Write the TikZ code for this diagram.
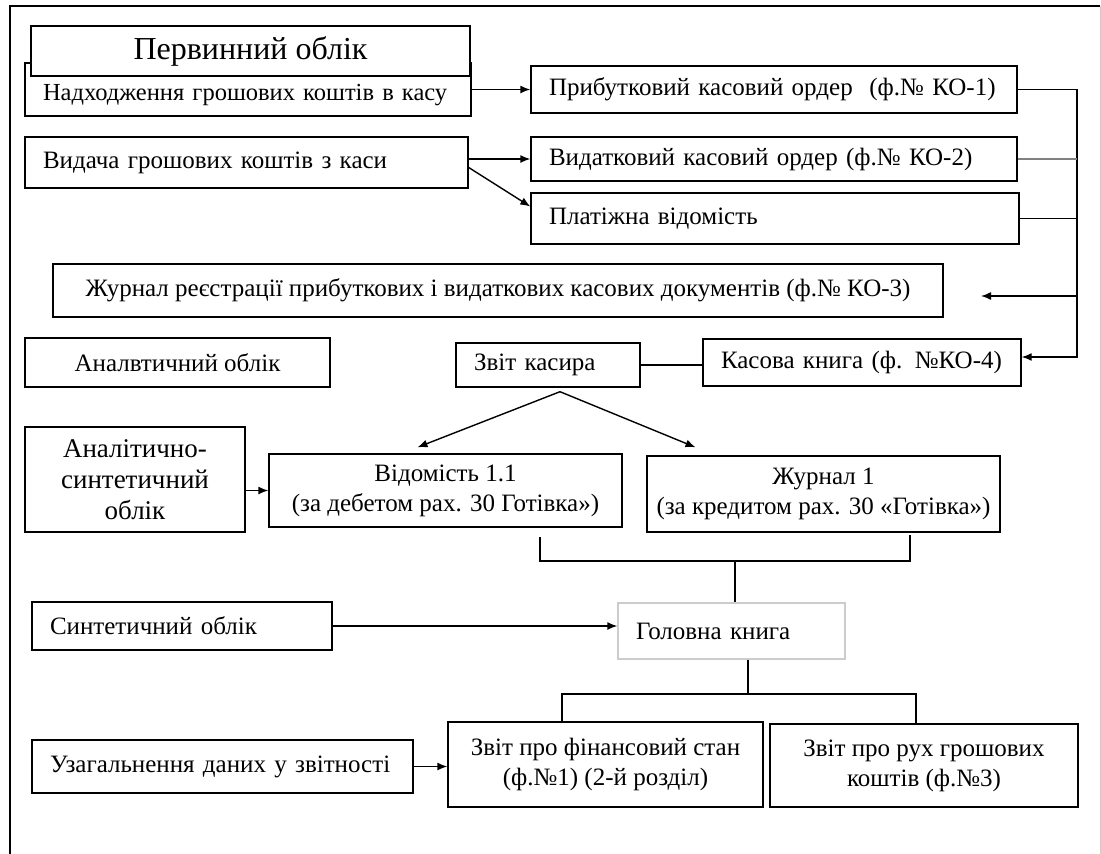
\documentclass[tikz,border=0pt]{standalone}
\usepackage{fontspec}
\setmainfont{Liberation Serif}
\usetikzlibrary{arrows.meta}

\begin{document}
\begin{tikzpicture}
	 [x=1pt,y=-1pt,line width=1.4pt,>={Latex[length=10pt,width=8pt]},
	  every node/.style={draw,rectangle,fill=white,inner sep=0pt,align=center,font=\fontsize{25}{30}\selectfont},
	  lbox/.style={inner xsep=18pt,text width=#1pt-36pt,align=left}]
	\useasboundingbox (0,0) rectangle (1101,854);
	\draw (10,854) -- (10,6) -- (1100,6);
	\draw[gray!40,line width=1pt] (1100,6) -- (1100,854);

	  \node (nadh)[lbox=446,minimum height=53,text height=27pt,text depth=6pt,font=\fontsize{24.5}{30}\selectfont] at (248,89.5) {Надходження грошових коштів в касу};
	  \node (perv)[minimum width=439,minimum height=50,font=\fontsize{32}{36}\selectfont] at (250.5,51) {Первинний облік};
	  \node (vyd)[lbox=443,minimum height=51] at (246.5,162.5) {Видача грошових коштів з каси};
	  \node (prib)[lbox=486,minimum height=47] at (774,89.5) {Прибутковий касовий ордер\ \ (ф.№ КО-1)};
	  \node (vydat)[lbox=486,minimum height=44] at (774,159) {Видатковий касовий ордер (ф.№ КО-2)};
	  \node (plat)[lbox=488,minimum height=51] at (775,218.5) {Платіжна відомість};
	  \node (zhurn)[minimum width=890,minimum height=53] at (498,290.5) {Журнал реєстрації прибуткових і видаткових касових документів (ф.№ КО-3)};
	  \node (analv)[minimum width=305,minimum height=49] at (177.5,362.5) {Аналвтичний облік};
	  \node (zvit)[lbox=184,minimum height=44] at (548,365) {Звіт касира};
	  \node (kasova)[lbox=318,minimum height=47] at (862,362.5) {Касова книга (ф. №КО-4)};
	  \node (ansyn)[minimum width=220,minimum height=105,font=\fontsize{27}{31}\selectfont] at (135,479.5) {Аналітично-\\синтетичний\\облік};
	  \node (vidom)[minimum width=353,minimum height=73] at (445.5,490.5) {Відомість 1.1\\(за дебетом рах. 30 Готівка»)};
	  \node (zhur1)[minimum width=353,minimum height=76] at (823.5,494) {Журнал 1\\(за кредитом рах. 30 «Готівка»)};
	  \node (synt)[lbox=300,minimum height=48] at (182,626) {Синтетичний облік};
	  \node (holov)[lbox=227,minimum height=56,draw=gray!40] at (731.5,631) {Головна книга};
	  \node (uzah)[lbox=381,minimum height=53] at (222.5,766.5) {Узагальнення даних у звітності};
	  \node (zfin)[minimum width=315,minimum height=85] at (605.5,764.5) {Звіт про фінансовий стан\\(ф.№1) (2-й розділ)};
	  \node (zruh)[minimum width=308,minimum height=83] at (924,765.5) {Звіт про рух грошових\\коштів (ф.№3)};

	\coordinate (bt) at (1077,89.5);
	\coordinate (bb) at (1077,357);
	\coordinate (zhend) at (981,296);
	\coordinate (b1) at (540,537);
	\coordinate (b2) at (910,535);
	\coordinate (bj) at (735,561);
	\coordinate (hj) at (748,694);
	\coordinate (h1) at (562,694);
	\coordinate (h2) at (916,694);

	\draw[->] (nadh) -- (prib);
	\draw[->] (vydat.west -| vyd.east) -- (vydat.west);
	\draw[->] ([yshift=-5pt]vyd.east) -- ([yshift=12pt]plat.west);
	\draw[->] (prib.east) -- (bt) -- (bb) -- (bb -| kasova.east);
	\draw[gray] (vydat.east) -- (vydat.east -| bt);
	\draw (plat.east) -- (plat.east -| bt);
	\draw[->] (zhend -| bt) -- (zhend);
	\draw (zvit.east) -- (zvit.east -| kasova.west);
	\foreach \to/\dx/\dy in {vidom/-28/6,zhur1/-128/8}
    \draw[->] ([xshift=12pt,yshift=-4pt]zvit.south) -- ([xshift=\dx pt,yshift=\dy pt]\to.north);
	\draw[->] (vidom.west -| ansyn.east) -- (vidom.west);
	\draw (b1) -- (b1 |- bj) -- (b2 |- bj) -- (b2);
	\draw (bj) -- (bj |- holov.north);
	\draw[->] (synt.east) -- (synt.east -| holov.west);
	\draw (hj |- holov.south) -- (hj);
	\draw (zfin.north -| h1) -- (h1) -- (h2) -- (zruh.north -| h2);
	\draw[->] (uzah.east) -- (uzah.east -| zfin.west);

\end{tikzpicture}
\end{document}
